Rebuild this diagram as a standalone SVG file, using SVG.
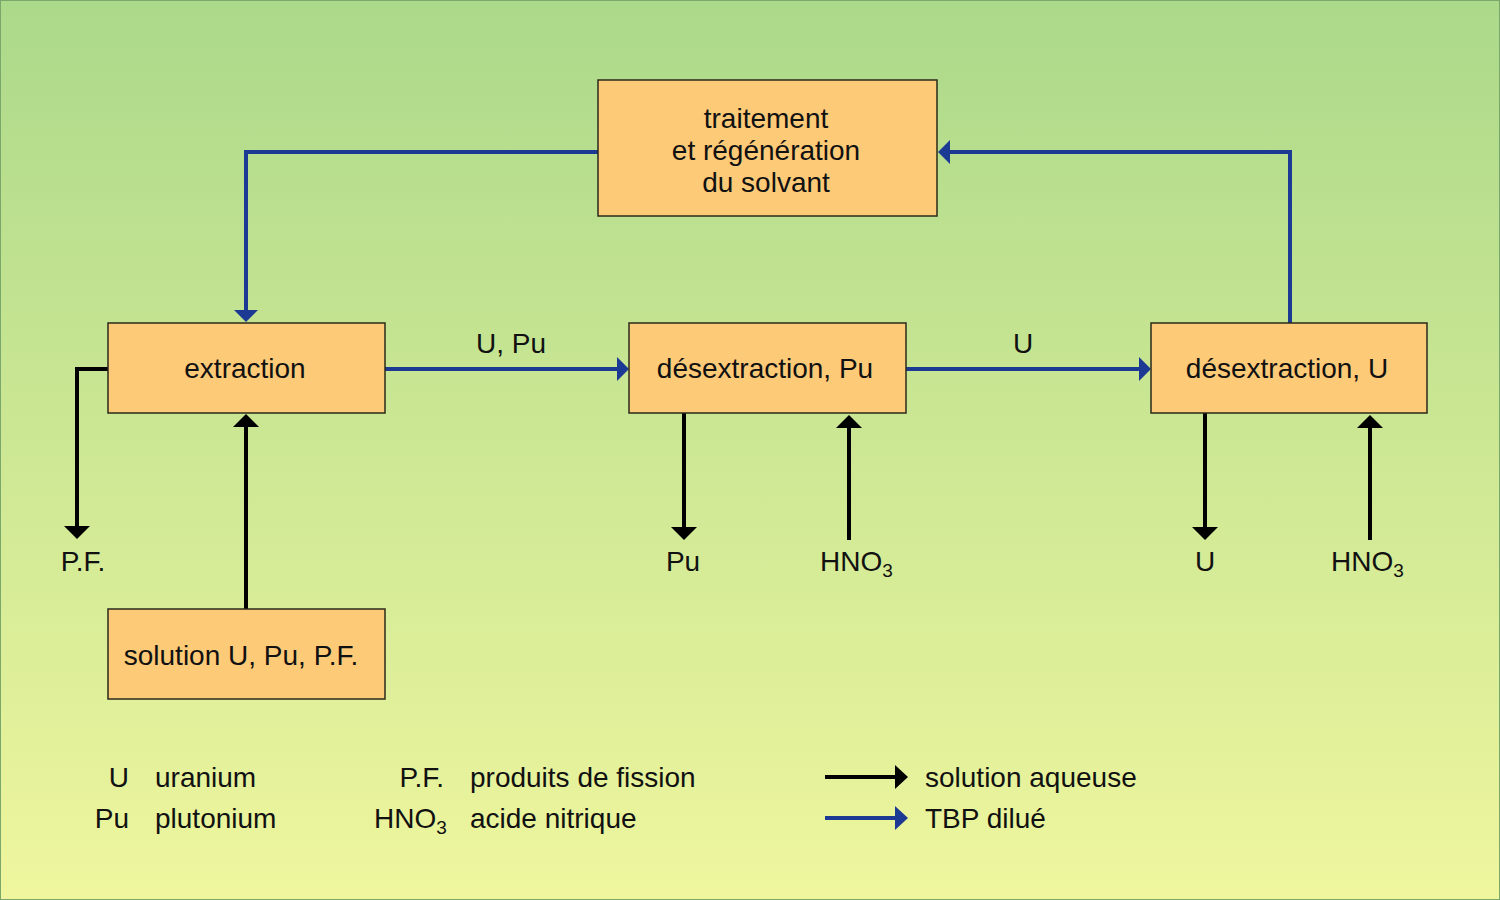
<svg xmlns="http://www.w3.org/2000/svg" width="1500" height="900" viewBox="0 0 1500 900">
<defs>
<linearGradient id="bg" x1="0" y1="0" x2="0" y2="1">
<stop offset="0" stop-color="#abd98a"/>
<stop offset="1" stop-color="#eff69e"/>
</linearGradient>
<style>
.box{fill:#fdca78;stroke:#2a2a1a;stroke-width:1.5}
.t{font-family:"Liberation Sans",Arial,sans-serif;font-size:28px;fill:#111}
.c{text-anchor:middle}
.r{text-anchor:end}
.blk{stroke:#000;stroke-width:4;fill:none}
.blu{stroke:#1c3a94;stroke-width:4;fill:none}
.hk{fill:#000}
.hb{fill:#1c3a94}
</style>
</defs>
<rect x="0" y="0" width="1500" height="900" fill="url(#bg)"/>
<rect x="0.5" y="0.5" width="1499" height="899" fill="none" stroke="#7aa86a" stroke-width="1"/>

<g id="connectors">
<polyline class="blu" points="598,152 246,152 246,310"/>
<polygon class="hb" points="234,310 258,310 246,322"/>
<polyline class="blu" points="1290,323 1290,152 950,152"/>
<polygon class="hb" points="950,140 950,164 938,152"/>
<line class="blu" x1="385" y1="369" x2="617" y2="369"/>
<polygon class="hb" points="617,357 617,381 629,369"/>
<line class="blu" x1="906" y1="369" x2="1139" y2="369"/>
<polygon class="hb" points="1139,357 1139,381 1151,369"/>
<polyline class="blk" points="108,369 77,369 77,526"/>
<polygon class="hk" points="64,526 90,526 77,539"/>
<line class="blk" x1="246" y1="609" x2="246" y2="427"/>
<polygon class="hk" points="233,427 259,427 246,414"/>
<line class="blk" x1="684" y1="413" x2="684" y2="527"/>
<polygon class="hk" points="671,527 697,527 684,540"/>
<line class="blk" x1="849" y1="540" x2="849" y2="428"/>
<polygon class="hk" points="836,428 862,428 849,415"/>
<line class="blk" x1="1205" y1="413" x2="1205" y2="527"/>
<polygon class="hk" points="1192,527 1218,527 1205,540"/>
<line class="blk" x1="1370" y1="540" x2="1370" y2="428"/>
<polygon class="hk" points="1357,428 1383,428 1370,415"/>
<text class="t c" x="511" y="353">U, Pu</text>
<text class="t c" x="1023" y="353">U</text>
</g>

<g id="node-traitement">
<rect class="box" x="598" y="80" width="339" height="136"/>
<text class="t c" x="766" y="128">traitement</text>
<text class="t c" x="766" y="160">et régénération</text>
<text class="t c" x="766" y="192">du solvant</text>
</g>
<g id="node-extraction">
<rect class="box" x="108" y="323" width="277" height="90"/>
<text class="t c" x="245" y="378">extraction</text>
</g>
<g id="node-desPu">
<rect class="box" x="629" y="323" width="277" height="90"/>
<text class="t c" x="765" y="378">désextraction, Pu</text>
</g>
<g id="node-desU">
<rect class="box" x="1151" y="323" width="276" height="90"/>
<text class="t c" x="1287" y="378">désextraction, U</text>
</g>
<g id="node-solution">
<rect class="box" x="108" y="609" width="277" height="90"/>
<text class="t c" x="241" y="665">solution U, Pu, P.F.</text>
</g>

<g id="outputs">
<text class="t c" x="83" y="571">P.F.</text>
<text class="t c" x="683" y="571">Pu</text>
<text class="t" x="820" y="571">HNO<tspan font-size="19" dy="6">3</tspan></text>
<text class="t c" x="1205" y="571">U</text>
<text class="t" x="1331" y="571">HNO<tspan font-size="19" dy="6">3</tspan></text>
</g>

<g id="legend">
<text class="t r" x="129" y="787">U</text>
<text class="t" x="155" y="787">uranium</text>
<text class="t r" x="129" y="828">Pu</text>
<text class="t" x="155" y="828">plutonium</text>
<text class="t r" x="444" y="787">P.F.</text>
<text class="t" x="470" y="787">produits de fission</text>
<text class="t" x="374" y="828">HNO<tspan font-size="19" dy="6">3</tspan></text>
<text class="t" x="470" y="828">acide nitrique</text>
<line class="blk" x1="825" y1="777" x2="896" y2="777"/>
<polygon class="hk" points="895,765 895,789 908,777"/>
<text class="t" x="925" y="787">solution aqueuse</text>
<line class="blu" x1="825" y1="818" x2="896" y2="818"/>
<polygon class="hb" points="895,806 895,830 908,818"/>
<text class="t" x="925" y="828">TBP dilué</text>
</g>
</svg>
